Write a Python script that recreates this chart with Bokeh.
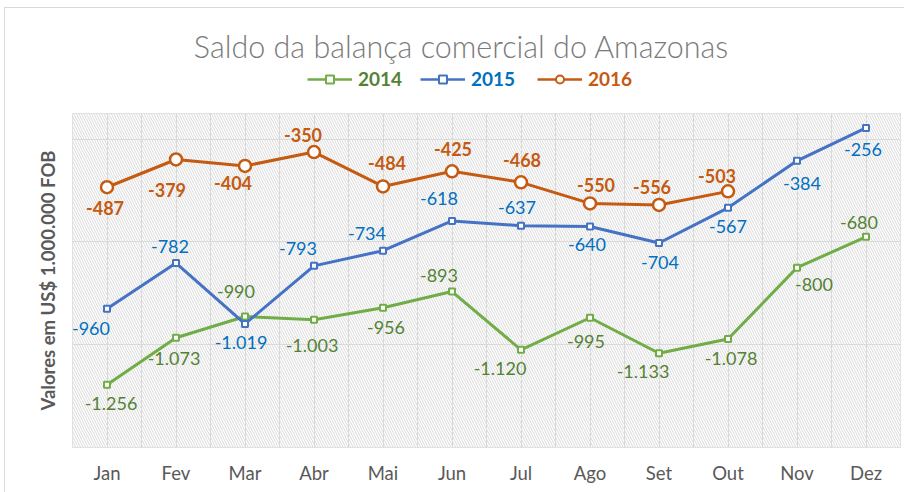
from bokeh.plotting import figure
from bokeh.layouts import column
from bokeh.models import (Range1d, FixedTicker, BoxAnnotation, Legend, LegendItem,
                          ColumnDataSource, Label, InlineStyleSheet)
from bokeh.embed import file_html
from bokeh.resources import INLINE

# ---- data ----
months = ["Jan", "Fev", "Mar", "Abr", "Mai", "Jun", "Jul", "Ago", "Set", "Out", "Nov", "Dez"]
v2014 = [-1256, -1073, -990, -1003, -956, -893, -1120, -995, -1133, -1078, -800, -680]
v2015 = [-960, -782, -1019, -793, -734, -618, -637, -640, -704, -567, -384, -256]
v2016 = [-487, -379, -404, -350, -484, -425, -468, -550, -556, -503]
y_grid_values = [-1500, -1100, -700, -300]
title_text = "Saldo da balança comercial do Amazonas"
y_label = "Valores em US$ 1.000.000 FOB"

# ---- label placement (screen px offsets, style only) ----
dx2014 = [4, -2, -9, -2, 3, -13, -21, -4, -16, 3, 17, -7]
dy2014 = [19, 21, -25, 26, 20, -16, 19, 24, 18, 19, 17, -14]
dx2015 = [-16, -6, -4, -16, -16, -13, -4, -3, 1, 0, 5, -3]
dy2015 = [20, -17, 19, -17, -17, -22, -18, 18, 20, 19, 23, 22]
dx2016 = [-2, -9, -12, -11, 4, 1, 1, 6, -7, -11]
dy2016 = [21, 31, 17, -17, -23, -22, -22, -18, -18, -15]


def fmt(v):
    return f"{v:,}".replace(",", ".")


FONT = "Lato"
AX = "#595959"
GRID = "#d9d9d9"

# ---------- header: title + legend (frame aligned with main frame: x from 72) ----------
HEAD_H = 100
head = figure(width=904, height=HEAD_H, output_backend="svg", toolbar_location=None,
              x_range=Range1d(0, 904), y_range=Range1d(0, HEAD_H),
              x_axis_location=None, y_axis_location=None, min_border=0,
              min_border_left=72, min_border_right=4, outline_line_color=None)
head.xgrid.visible = False
head.ygrid.visible = False
head.add_layout(Label(x=389, y=HEAD_H - 45, x_units="screen", y_units="screen",
                      text=title_text, text_align="center", text_baseline="middle",
                      text_font="Lato Light, Lato", text_font_size="30.5px",
                      text_color="#7a7a7a"))

# ---------- main chart ----------
p = figure(width=904, height=392, output_backend="svg", toolbar_location=None,
           x_range=Range1d(0.5, 12.5), y_range=Range1d(-1500, -200),
           min_border_left=72, min_border_right=4, min_border_top=13, min_border_bottom=45)
p.outline_line_color = GRID
p.background_fill_color = "white"
p.border_fill_color = "white"

bg = BoxAnnotation(fill_color="white", fill_alpha=1.0, line_color=None,
                   hatch_pattern="\\", hatch_color=GRID, hatch_scale=5, hatch_weight=1,
                   level="image")
p.add_layout(bg)

xs = list(range(1, len(months) + 1))
p.xaxis.ticker = FixedTicker(ticks=xs, minor_ticks=[x - 0.5 for x in xs] + [xs[-1] + 0.5])
p.xaxis.major_label_overrides = {x: m for x, m in zip(xs, months)}
p.xaxis.axis_line_color = None
p.xaxis.major_tick_line_color = None
p.xaxis.minor_tick_line_color = None
p.xaxis.major_label_standoff = 8
p.xaxis.major_label_text_font = FONT
p.xaxis.major_label_text_font_size = "18.5px"
p.xaxis.major_label_text_color = AX

p.yaxis.ticker = FixedTicker(ticks=[])
p.yaxis.major_tick_line_color = None
p.yaxis.minor_tick_line_color = None
p.yaxis.axis_line_color = None
p.yaxis.axis_label = y_label
p.yaxis.axis_label_text_font = FONT
p.yaxis.axis_label_text_font_style = "bold"
p.yaxis.axis_label_text_font_size = "18.5px"
p.yaxis.axis_label_text_color = AX
p.yaxis.axis_label_standoff = 14

p.xgrid.grid_line_color = GRID
p.xgrid.minor_grid_line_color = GRID
p.ygrid.ticker = FixedTicker(ticks=y_grid_values)
p.ygrid.grid_line_color = GRID

series = [
    ("2014", v2014, "#70ad47", "#548235", "normal", "square", 6, 2, 5, dx2014, dy2014),
    ("2015", v2015, "#4472c4", "#0070c0", "normal", "square", 6, 2, 5, dx2015, dy2015),
    ("2016", v2016, "#c55a11", "#c55a11", "bold", "circle", 12, 2.5, 10, dx2016, dy2016),
]

legend_x = [235, 348, 465]
for (name, vals, lc, tc, fst, mk, ms, mw, lms, dx, dy), lx in zip(series, legend_x):
    src = ColumnDataSource(dict(x=xs[:len(vals)], y=vals, lbl=[fmt(v) for v in vals],
                                dx=dx, dy=dy))
    p.line("x", "y", source=src, line_color=lc, line_width=3)
    p.scatter("x", "y", source=src, marker=mk, size=ms, fill_color="white",
              line_color=lc, line_width=mw)
    p.text("x", "y", text="lbl", source=src, x_offset="dx", y_offset="dy",
           text_align="center", text_baseline="middle", text_color=tc,
           text_font={"value": FONT}, text_font_style=fst, text_font_size={"value": "18px"})
    # legend entry in header (series drawn there lies outside the header's y range)
    hl = head.line("x", "y", source=src, line_color=lc, line_width=2.5)
    hm = head.scatter("x", "y", source=src, marker=mk, size=lms, fill_color="white",
                      line_color=lc, line_width=2)
    leg = Legend(items=[LegendItem(label=name, renderers=[hl, hm])],
                 location=(lx, 10), orientation="horizontal",
                 border_line_color=None, background_fill_alpha=0, padding=0, margin=0,
                 spacing=0, label_standoff=6, glyph_width=45, glyph_height=20,
                 label_height=20, label_text_font=FONT, label_text_font_style="bold",
                 label_text_font_size="19px", label_text_color=tc,
                 label_text_baseline="middle")
    head.add_layout(leg, "center")

frame_css = InlineStyleSheet(css="""
:host { position: relative; }
:host::after {
  content: ""; position: absolute; left: 4px; top: 7px;
  width: calc(100% - 4px); height: calc(100% - 7px);
  border-left: 1px solid #d9d9d9; border-top: 1px solid #d9d9d9;
  box-sizing: border-box; pointer-events: none; z-index: 10;
}
""")
layout = column(head, p, spacing=0, stylesheets=[frame_css])
open("out.html", "w").write(file_html(layout, INLINE))
